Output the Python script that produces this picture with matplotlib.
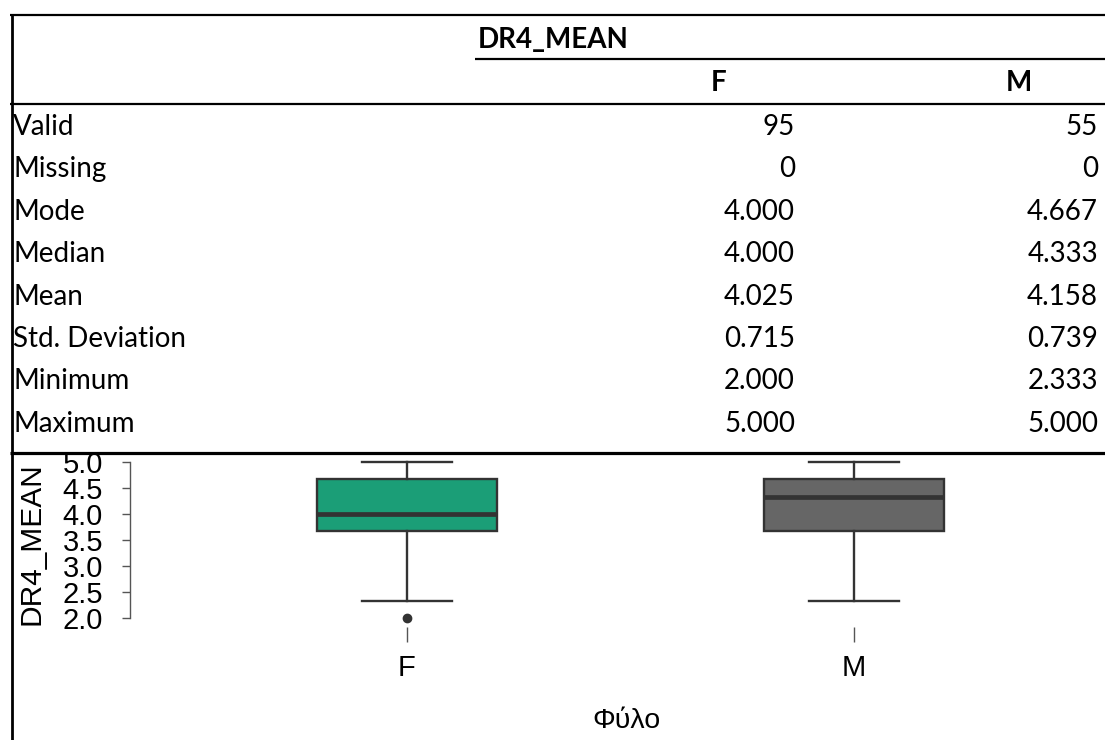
import matplotlib
matplotlib.use("Agg")
import matplotlib.pyplot as plt
from matplotlib.lines import Line2D

# ---------------- data ----------------
variable = "DR4_MEAN"
groups = ["F", "M"]
row_labels = ["Valid", "Missing", "Mode", "Median", "Mean", "Std. Deviation", "Minimum", "Maximum"]
col_F = ["95", "0", "4.000", "4.000", "4.025", "0.715", "2.000", "5.000"]
col_M = ["55", "0", "4.667", "4.333", "4.158", "0.739", "2.333", "5.000"]

medians = [4.000, 4.333]
q1s = [3.667, 3.667]
q3s = [4.667, 4.667]
whis_lo = [2.333, 2.333]
whis_hi = [5.000, 5.000]
outliers = [[2.000], []]
box_colors = ["#1b9e77", "#666666"]
yticks = [2.0, 2.5, 3.0, 3.5, 4.0, 4.5, 5.0]
xlabel = "Φύλο"

# ---------------- figure ----------------
W, H = 1105, 740
fig = plt.figure(figsize=(W / 100, H / 100), dpi=100)
fig.patch.set_facecolor("white")

def fx(x):
    return x / W

def fy(y):
    return 1 - y / H

def hline(y, x0, x1, lw):
    fig.add_artist(Line2D([fx(x0), fx(x1)], [fy(y), fy(y)], color="black", zorder=5,
                          linewidth=lw, transform=fig.transFigure, solid_capstyle="butt"))

def vline(x, y0, y1, lw):
    fig.add_artist(Line2D([fx(x), fx(x)], [fy(y0), fy(y1)], color="black", zorder=5,
                          linewidth=lw, transform=fig.transFigure, solid_capstyle="butt"))

tfont = "Lato"
tsize = 20

# table borders
hline(15, 10, W, 1.6)
hline(59, 475, W, 1.6)
hline(104, 10, W, 1.6)
hline(453, 10, W, 2.3)
vline(11.5, 14, H, 2.0)

# header
fig.text(fx(478), fy(48), variable, fontfamily=tfont, fontsize=tsize, fontweight="bold",
         ha="left", va="baseline")
fig.text(fx(719), fy(91), groups[0], fontfamily=tfont, fontsize=tsize, fontweight="bold",
         ha="center", va="baseline")
fig.text(fx(1019), fy(91), groups[1], fontfamily=tfont, fontsize=tsize, fontweight="bold",
         ha="center", va="baseline")

row_base0, row_dy = 135, 42.4
for i, lab in enumerate(row_labels):
    y = row_base0 + i * row_dy
    fig.text(fx(13), fy(y), lab, fontfamily=tfont, fontsize=tsize, ha="left", va="baseline")
    fig.text(fx(795), fy(y), col_F[i], fontfamily=tfont, fontsize=tsize, ha="right", va="baseline")
    fig.text(fx(1098), fy(y), col_M[i], fontfamily=tfont, fontsize=tsize, ha="right", va="baseline")

# ---------------- boxplot ----------------
pfont = "Liberation Sans"
psize = 21
ax_left, ax_right, ax_top, ax_bottom = 130, W, 462, 618
ax = fig.add_axes([fx(ax_left), fy(ax_bottom), (ax_right - ax_left) / W, (ax_bottom - ax_top) / H])
ax.set_facecolor("none")

pos = [0, 1]
c0, c1 = 407, 854
ppu = (c1 - c0)
ax.set_xlim((ax_left - c0) / ppu, (ax_right - c0) / ppu)
ax.set_ylim(2.0, 5.0)

stats = []
for i, g in enumerate(groups):
    stats.append(dict(med=medians[i], q1=q1s[i], q3=q3s[i], whislo=whis_lo[i],
                      whishi=whis_hi[i], fliers=outliers[i], label=g))

bw = 180 / ppu
bp = ax.bxp(stats, positions=pos, widths=bw, capwidths=bw / 2, patch_artist=True,
            boxprops=dict(edgecolor="#333333", linewidth=1.7),
            medianprops=dict(color="#333333", linewidth=3.4, solid_capstyle="butt"),
            whiskerprops=dict(color="#333333", linewidth=1.7),
            capprops=dict(color="#333333", linewidth=1.7),
            flierprops=dict(marker="o", markerfacecolor="#333333", markeredgecolor="#333333",
                            markersize=6))
for patch, col in zip(bp["boxes"], box_colors):
    patch.set_facecolor(col)
for k in ("fliers", "whiskers", "caps", "medians", "boxes"):
    for art in bp[k]:
        art.set_clip_on(False)

for s in ("top", "right", "bottom"):
    ax.spines[s].set_visible(False)
ax.spines["left"].set_bounds(2.0, 5.0)
ax.spines["left"].set_color("#555555")
ax.spines["left"].set_linewidth(1.0)
ax.spines["bottom"].set_position(("outward", 6.5))

ax.set_yticks(yticks)
ax.set_yticklabels([f"{v:.1f}" for v in yticks], fontfamily=pfont, fontsize=psize)
ax.tick_params(axis="y", length=5.5, width=1.0, color="#555555", pad=14, labelcolor="black")
ax.set_xticks(pos)
ax.set_xticklabels(groups, fontfamily=pfont, fontsize=psize)
ax.tick_params(axis="x", length=10.5, width=1.0, color="#555555", pad=9, labelcolor="black")

fig.text(fx(32), fy(544), variable, rotation=90, fontfamily=pfont, fontsize=21.5,
         ha="center", va="center")
fig.text(fx(627), fy(721), xlabel, fontfamily=pfont, fontsize=20.5, ha="center", va="center")

fig.savefig("out.png", dpi=100, facecolor="white")
